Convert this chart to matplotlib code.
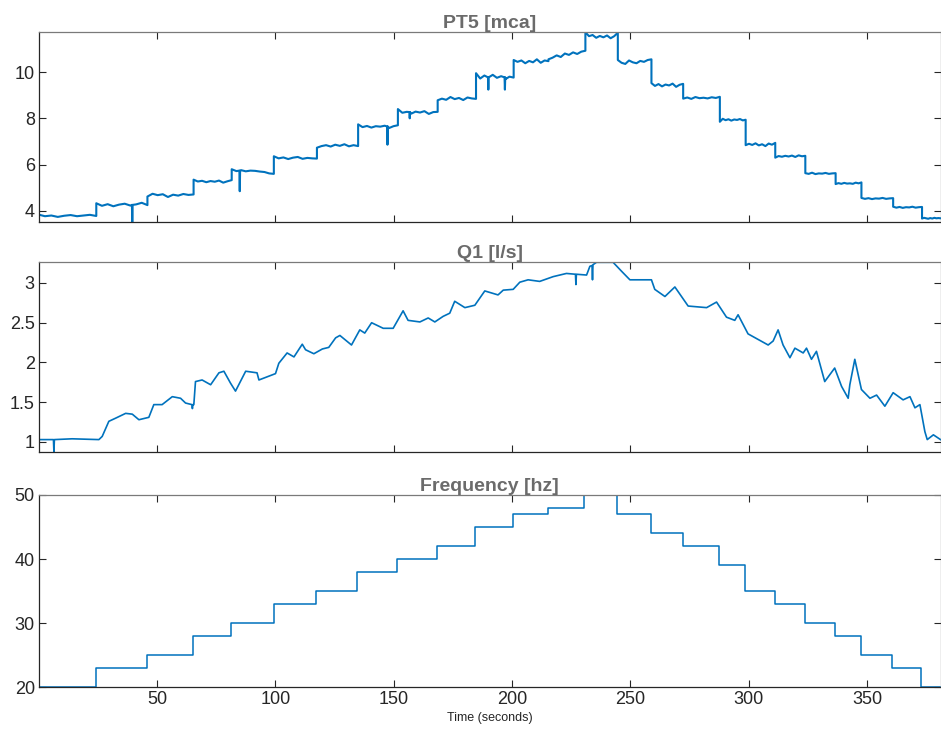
import numpy as np
import matplotlib
matplotlib.use("Agg")
import matplotlib.pyplot as plt

plt.rcParams['font.family'] = ['Liberation Sans', 'DejaVu Sans']

# ---------------- data ----------------
t_end = 381.0

# PT5 [mca]: plateau start times and noisy samples on each plateau
pt5_starts = [0.0, 24.4, 46.0, 65.5, 81.6, 99.4, 117.6, 135.0, 151.8, 168.6, 184.8,
              200.7, 215.4, 231.0, 244.7, 258.9, 272.3, 287.8, 298.7, 311.2, 323.9,
              336.7, 347.6, 361.0, 373.2]
pt5_samples = [
    [3.84, 3.77, 3.80, 3.74, 3.79, 3.82, 3.77, 3.80, 3.83, 3.78],
    [4.33, 4.22, 4.29, 4.20, 4.27, 4.31, 4.23, 4.28, 4.35, 4.25],
    [4.62, 4.74, 4.68, 4.72, 4.60, 4.70, 4.66, 4.73, 4.69, 4.71],
    [5.35, 5.27, 5.30, 5.24, 5.29, 5.26, 5.31, 5.22, 5.28, 5.33],
    [5.80, 5.72, 5.76, 5.71, 5.74, 5.73, 5.70, 5.68, 5.62, 5.60],
    [6.36, 6.27, 6.31, 6.24, 6.30, 6.33, 6.25, 6.29, 6.27, 6.26],
    [6.73, 6.80, 6.84, 6.78, 6.86, 6.81, 6.88, 6.79, 6.84, 6.80],
    [7.74, 7.62, 7.67, 7.60, 7.66, 7.64, 7.68, 7.58, 7.66, 7.70],
    [8.40, 8.24, 8.28, 8.20, 8.29, 8.25, 8.31, 8.19, 8.27, 8.28],
    [8.78, 8.85, 8.80, 8.92, 8.83, 8.88, 8.79, 8.90, 8.86, 8.84],
    [9.95, 9.72, 9.85, 9.70, 9.88, 9.75, 9.82, 9.69, 9.80, 9.76],
    [10.52, 10.44, 10.50, 10.38, 10.48, 10.42, 10.55, 10.40, 10.50, 10.47],
    [10.55, 10.62, 10.72, 10.65, 10.80, 10.74, 10.85, 10.78, 10.88, 10.92],
    [11.72, 11.55, 11.60, 11.48, 11.56, 11.50, 11.58, 11.46, 11.55, 11.70],
    [10.52, 10.40, 10.35, 10.50, 10.42, 10.38, 10.48, 10.44, 10.52, 10.55],
    [9.52, 9.40, 9.48, 9.38, 9.46, 9.42, 9.50, 9.36, 9.45, 9.49],
    [8.85, 8.90, 8.84, 8.92, 8.87, 8.89, 8.86, 8.91, 8.88, 8.93],
    [7.85, 7.98, 7.92, 7.96, 7.90, 7.95, 7.93, 7.97, 7.91, 7.94],
    [6.84, 6.90, 6.85, 6.92, 6.83, 6.88, 6.80, 6.91, 6.86, 6.94],
    [6.30, 6.37, 6.34, 6.38, 6.35, 6.39, 6.33, 6.40, 6.36, 6.38],
    [5.63, 5.60, 5.65, 5.59, 5.62, 5.61, 5.64, 5.60, 5.62, 5.63],
    [5.16, 5.20, 5.17, 5.21, 5.18, 5.19, 5.17, 5.22, 5.19, 5.23],
    [4.56, 4.52, 4.55, 4.51, 4.54, 4.53, 4.56, 4.52, 4.54, 4.55],
    [4.18, 4.14, 4.17, 4.13, 4.16, 4.15, 4.18, 4.14, 4.16, 4.17],
    [3.67, 3.70, 3.68, 3.66, 3.69, 3.67, 3.70, 3.68, 3.69, 3.68],
]
# narrow spikes: time, plateau level, spike value
pt5_spike_t = [39.6, 85.0, 147.4, 156.8, 190.0, 197.0]
pt5_spike_base = [4.26, 5.74, 7.65, 8.27, 9.77, 9.77]
pt5_spike_peak = [3.52, 4.85, 6.86, 8.00, 9.24, 9.24]
pt5_ylim = (3.52, 11.73)

# Q1 [l/s]: traced points
q1_t = [0.2, 6.3, 6.5, 6.7, 14.2, 25.5, 26.9, 29.7, 32.6, 36.8, 39.6, 42.4, 46.6, 48.7,
        52.2, 56.5, 60.0, 62.1, 64.8, 65.0, 65.2, 65.6, 66.3, 69.1, 72.7, 76.2, 78.3,
        81.1, 83.2, 87.5, 92.3, 93.1, 100.1, 101.5, 105.0, 107.9, 111.4, 112.8, 116.3,
        119.9, 122.6, 125.5, 127.3, 132.2, 135.7, 137.8, 140.7, 145.6, 149.8, 154.0,
        156.1, 161.1, 164.6, 167.4, 170.9, 173.7, 175.8, 180.1, 184.3, 188.5, 194.1,
        196.3, 200.5, 203.3, 206.8, 211.7, 217.4, 223.0, 226.8, 227.0, 227.2, 231.5,
        232.9, 233.8, 234.0, 234.2, 235.7, 242.7, 246.2, 249.8, 254.0, 258.9, 260.3,
        264.6, 268.8, 274.4, 282.2, 286.4, 290.6, 294.1, 295.5, 299.7, 308.2, 310.3,
        312.4, 314.5, 317.4, 319.5, 323.0, 324.4, 326.5, 328.6, 332.1, 336.3, 339.2,
        342.0, 342.7, 344.8, 347.6, 351.2, 354.0, 357.5, 361.0, 365.2, 368.1, 370.2,
        372.3, 374.4, 375.4, 378.0, 381.0]
q1_v = [1.03, 1.03, 0.874, 1.03, 1.04, 1.03, 1.07, 1.26, 1.30, 1.36, 1.35, 1.28, 1.31, 1.47,
        1.47, 1.57, 1.55, 1.49, 1.47, 1.42, 1.47, 1.47, 1.76, 1.78, 1.72, 1.87, 1.89,
        1.74, 1.64, 1.89, 1.87, 1.78, 1.86, 1.99, 2.12, 2.07, 2.23, 2.16, 2.11,
        2.17, 2.19, 2.31, 2.34, 2.22, 2.41, 2.37, 2.50, 2.43, 2.43, 2.65,
        2.53, 2.51, 2.56, 2.51, 2.58, 2.62, 2.77, 2.69, 2.72, 2.90, 2.85,
        2.91, 2.92, 3.01, 3.04, 3.02, 3.08, 3.12, 3.11, 2.98, 3.11, 3.10,
        3.21, 3.22, 3.04, 3.23, 3.26, 3.26, 3.15, 3.04, 3.04, 3.04, 2.92,
        2.83, 2.95, 2.71, 2.69, 2.76, 2.57, 2.53, 2.60, 2.36, 2.22, 2.27,
        2.41, 2.22, 2.06, 2.18, 2.12, 2.18, 2.04, 2.14, 1.76, 1.93, 1.70,
        1.55, 1.72, 2.04, 1.66, 1.55, 1.59, 1.45, 1.62, 1.53, 1.57, 1.43,
        1.47, 1.13, 1.03, 1.09, 1.03]
q1_ylim = (0.874, 3.264)

# Frequency [hz]: change times and values (held until next change)
freq_t = [0.0, 24.4, 45.8, 65.3, 81.4, 99.4, 117.4, 134.7, 151.6, 168.3, 184.4, 200.5,
          215.1, 230.6, 244.5, 258.8, 272.1, 287.5, 298.5, 310.9, 323.7, 336.5, 347.6,
          360.6, 372.6, 381.0]
freq_v = [20, 23, 25, 28, 30, 33, 35, 38, 40, 42, 45, 47, 48, 50, 47, 44, 42, 39, 35, 33,
          30, 28, 25, 23, 20, 20]

x_ticks = [50, 100, 150, 200, 250, 300, 350]

# ---------------- build PT5 series ----------------
pt5_bounds = pt5_starts + [t_end]
pts = []
for i, vals in enumerate(pt5_samples):
    tt = np.linspace(pt5_bounds[i], pt5_bounds[i + 1], len(vals))
    pts += list(zip(tt, vals))
for ts, b, p in zip(pt5_spike_t, pt5_spike_base, pt5_spike_peak):
    pts += [(ts - 0.15, b), (ts, p), (ts + 0.15, b)]
pts.sort(key=lambda a: a[0])
pt5_t = [a[0] for a in pts]
pt5_v = [a[1] for a in pts]

# ---------------- figure ----------------
W, H = 941, 731
fig = plt.figure(figsize=(W / 100, H / 100), dpi=100)
color = '#0072BD'
title_color = '#6b6b6b'
dark = '#262626'

def make_axes(top_px, bot_px):
    left = 39 / W
    right = 940.5 / W
    return fig.add_axes([left, 1 - bot_px / H, right - left, (bot_px - top_px) / H])

ax1 = make_axes(32, 222)
ax2 = make_axes(262, 452)
ax3 = make_axes(495, 687)

ax1.plot(pt5_t, pt5_v, color=color, lw=1.5)
ax1.set_ylim(*pt5_ylim)
ax1.set_yticks([4, 6, 8, 10])
ax1.set_title('PT5 [mca]', fontsize=14, fontweight='bold', color=title_color, pad=3)

ax2.plot(q1_t, q1_v, color=color, lw=1.2)
ax2.set_ylim(*q1_ylim)
ax2.set_yticks([1, 1.5, 2, 2.5, 3])
ax2.set_yticklabels(['1', '1.5', '2', '2.5', '3'])
ax2.set_title('Q1 [l/s]', fontsize=14, fontweight='bold', color=title_color, pad=3)

ax3.plot(freq_t, freq_v, color=color, lw=1.1, drawstyle='steps-post')
ax3.set_ylim(20, 50)
ax3.set_yticks([20, 30, 40, 50])
ax3.set_title('Frequency [hz]', fontsize=14, fontweight='bold', color=title_color, pad=3)
ax3.set_xlabel('Time (seconds)', fontsize=9, labelpad=3, color=dark)

for ax in (ax1, ax2, ax3):
    ax.set_xlim(0.2, t_end)
    ax.set_xticks(x_ticks)
    ax.tick_params(direction='in', length=5, width=0.8, labelsize=13, colors=dark,
                   top=True, right=True, pad=3)
    for s in ('left', 'bottom'):
        ax.spines[s].set_color(dark)
        ax.spines[s].set_linewidth(0.9)
    for s in ('top', 'right'):
        ax.spines[s].set_color('#7a7a7a')
        ax.spines[s].set_linewidth(0.9)
    ax.set_facecolor('white')

ax1.tick_params(labelbottom=False)
ax2.tick_params(labelbottom=False)

fig.savefig('out.png', dpi=100, facecolor='white')
